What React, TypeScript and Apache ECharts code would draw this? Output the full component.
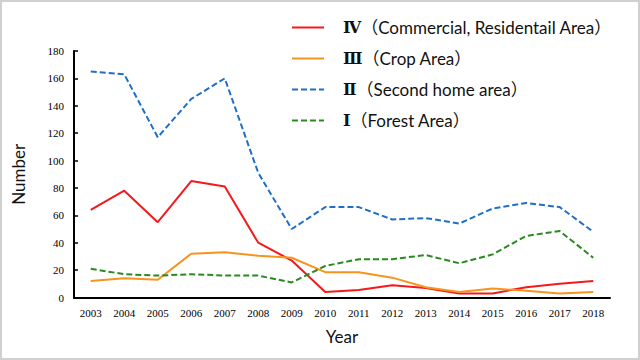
import React, { useEffect, useRef } from "react";
import * as echarts from "echarts";

const years = ["2003","2004","2005","2006","2007","2008","2009","2010","2011","2012","2013","2014","2015","2016","2017","2018"];
const commercial = [64, 78, 55, 85, 81, 40, 27, 4, 5.5, 9, 7, 3, 3, 7.5, 10, 12];
const crop = [12, 14, 13, 32, 33, 30.5, 29, 18.5, 18.5, 14.5, 7.5, 4, 6.5, 5, 3, 4];
const secondHome = [165, 163, 117, 145, 160, 91, 50, 66, 66, 57, 58, 54, 65, 69, 66, 48];
const forest = [21, 17, 16, 17, 16, 16, 11, 23, 28, 28, 31, 25, 31.5, 45, 48.5, 29];

const numerals = ["Ⅳ", "Ⅲ", "Ⅱ", "Ⅰ"];
const labels = [
  "（Commercial, Residentail Area）",
  "（Crop Area）",
  "（Second home area）",
  "（Forest Area）",
];
const names = numerals.map((n, i) => n + labels[i]);

export default function App() {
  const ref = useRef<HTMLDivElement>(null);
  useEffect(() => {
    if (!ref.current) return;
    const chart = echarts.init(ref.current, undefined, { renderer: "svg" });
    const serif = '"Liberation Serif", "Times New Roman", serif';
    const sans = 'Lato, "Noto Sans CJK JP", sans-serif';
    const mk = (name: string, data: number[], color: string, dashed: boolean) => ({
      name,
      type: "line",
      data,
      symbol: "none",
      lineStyle: { color, width: 2, type: dashed ? [6, 3] : "solid" },
      itemStyle: { color },
    });
    chart.setOption({
      animation: false,
      backgroundColor: "#ffffff",
      grid: { left: 74, right: 30, top: 51, bottom: 62.5 },
      legend: {
        orient: "vertical",
        left: 286,
        top: 14,
        itemWidth: 32,
        itemHeight: 16,
        itemGap: 14,
        itemStyle: { opacity: 0 },
        textStyle: {
          fontFamily: sans,
          fontSize: 17,
          color: "#111",
          padding: [0, 0, 0, 14],
          rich: {
            num: { fontFamily: '"DejaVu Serif", "Liberation Serif", serif', fontSize: 16, color: "#111", fontWeight: "bold" },
            txt: { fontFamily: sans, fontSize: 17, color: "#111" },
          },
        },
        formatter: (name: string) => {
          const i = names.indexOf(name);
          return "{num|" + numerals[i] + "}{txt|" + labels[i] + "}";
        },
        data: names,
      },
      xAxis: {
        type: "category",
        data: years,
        boundaryGap: true,
        name: "Year",
        nameLocation: "middle",
        nameGap: 30,
        nameTextStyle: { fontFamily: sans, fontSize: 17, color: "#111" },
        axisLine: { lineStyle: { color: "#000", width: 2 } },
        axisTick: { inside: true, length: 4, lineStyle: { color: "#000", width: 1.5 } },
        axisLabel: { fontFamily: serif, fontSize: 11, color: "#000", margin: 10 },
        splitLine: { show: false },
      },
      yAxis: {
        type: "value",
        min: 0,
        max: 180,
        interval: 20,
        name: "Number",
        nameLocation: "middle",
        nameGap: 47,
        nameRotate: 90,
        nameTextStyle: { fontFamily: sans, fontSize: 17, color: "#111" },
        axisLine: { show: true, lineStyle: { color: "#000", width: 2 } },
        axisTick: { show: true, inside: true, length: 4, lineStyle: { color: "#000", width: 1.5 } },
        axisLabel: { fontFamily: serif, fontSize: 11, color: "#000", margin: 10 },
        splitLine: { show: false },
      },
      series: [
        mk(names[0], commercial, "#f5191b", false),
        mk(names[1], crop, "#f7941d", false),
        mk(names[2], secondHome, "#1f6fc8", true),
        mk(names[3], forest, "#2a8a1e", true),
      ],
    });
    return () => chart.dispose();
  }, []);
  return (
    <div style={{ position: "fixed", left: 0, top: 0, width: 640, height: 360, background: "#fff" }}>
      <div ref={ref} style={{ position: "absolute", left: 0, top: 0, width: 640, height: 360 }} />
      <div
        style={{
          position: "absolute",
          left: 0,
          top: 0,
          width: 640,
          height: 360,
          boxSizing: "border-box",
          border: "2px solid #d0d0d0",
          pointerEvents: "none",
        }}
      />
    </div>
  );
}
